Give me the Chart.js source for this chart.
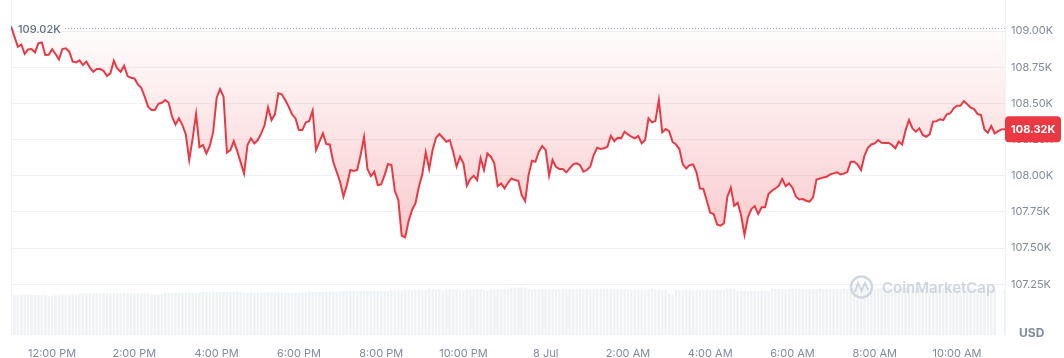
<!DOCTYPE html>
<html>
<head>
<meta charset="utf-8">
<script src="https://cdn.jsdelivr.net/npm/chart.js@4.4.1/dist/chart.umd.min.js"></script>
<style>
  html, body { margin: 0; padding: 0; background: #fff; }
</style>
</head>
<body>
<canvas id="priceChart" width="1064" height="358"></canvas>
<script>
// BTC / USD, one point every 5 minutes, 11:00 AM (7 Jul) -> 11:10 AM (8 Jul)
const openPrice = 109020;

const prices = [
  109035, 108962, 108892, 108908, 108842, 108874, 108876, 108853, 108915, 108922,
  108835, 108837, 108874, 108842, 108805, 108876, 108881, 108858, 108789, 108784,
  108798, 108766, 108789, 108749, 108719, 108738, 108738, 108726, 108689, 108708,
  108795, 108742, 108719, 108761, 108689, 108678, 108673, 108632, 108609, 108547,
  108478, 108455, 108455, 108498, 108505, 108524, 108505, 108408, 108355, 108397,
  108351, 108286, 108109, 108259, 108427, 108197, 108213, 108155, 108206, 108305,
  108540, 108600, 108547, 108160, 108178, 108240, 108171, 108093, 108015, 108213,
  108259, 108224, 108247, 108293, 108351, 108473, 108385, 108425, 108570, 108563,
  108524, 108478, 108425, 108397, 108316, 108316, 108369, 108378, 108450, 108178,
  108236, 108293, 108220, 108217, 108097, 108028, 107959, 107856, 107936, 108040,
  108033, 108040, 108144, 108268, 108047, 107998, 108028, 107936, 107941, 108005,
  108081, 108074, 107895, 107833, 107586, 107575, 107687, 107763, 107810, 107925,
  108010, 108162, 108047, 108178, 108263, 108289, 108263, 108236, 108247, 108167,
  108063, 108132, 108086, 107932, 107978, 108001, 107971, 108121, 108040, 108155,
  108132, 108086, 107929, 107948, 107913, 107952, 107982, 107971, 107966, 107867,
  107826, 108005, 108104, 108097, 108167, 108206, 108178, 108001, 108109, 108063,
  108047, 108047, 108024, 108051, 108079, 108086, 108074, 108028, 108040, 108063,
  108144, 108194, 108185, 108190, 108201, 108277, 108240, 108263, 108259, 108305,
  108286, 108270, 108259, 108275, 108224, 108247, 108397, 108369, 108378, 108524,
  108300, 108323, 108309, 108236, 108217, 108185, 108079, 108051, 108074, 108079,
  108024, 107913, 107909, 107828, 107745, 107736, 107664, 107655, 107671, 107856,
  107918, 107793, 107814, 107729, 107591, 107713, 107770, 107791, 107736, 107782,
  107782, 107874, 107897, 107913, 107932, 107978, 107929, 107948, 107918, 107856,
  107837, 107839, 107828, 107821, 107851, 107975, 107982, 107989, 107994, 108010,
  108017, 108024, 108010, 108015, 108028, 108097, 108097, 108079, 108040, 108139,
  108194, 108217, 108224, 108247, 108229, 108226, 108229, 108213, 108190, 108236,
  108217, 108316, 108385, 108328, 108305, 108328, 108282, 108270, 108286, 108374,
  108378, 108390, 108385, 108425, 108431, 108466, 108484, 108484, 108517, 108494,
  108471, 108461, 108427, 108420, 108321, 108298, 108344, 108293, 108309, 108321,
  108322
];

// 24h volume at each point, billions USD
const volumes = [
  20.1, 19.9, 19.8, 20.1, 20.2, 20.2, 20.1, 20.2, 20.0, 19.9,
  20.1, 19.3, 19.6, 20.0, 20.4, 20.4, 20.3, 20.5, 20.4, 20.3,
  20.6, 20.9, 20.9, 20.8, 21.0, 20.9, 20.7, 20.9, 21.0, 20.9,
  21.0, 21.0, 20.9, 21.0, 20.9, 20.9, 21.0, 21.0, 20.8, 20.9,
  20.9, 20.4, 20.2, 20.3, 20.6, 21.2, 21.1, 21.2, 21.2, 21.2,
  21.1, 21.2, 21.2, 21.1, 21.2, 21.3, 21.6, 21.5, 21.3, 21.6,
  21.4, 21.6, 21.7, 21.5, 21.6, 21.7, 21.8, 21.6, 21.2, 21.0,
  21.3, 21.2, 21.4, 21.1, 21.4, 21.5, 21.3, 21.4, 21.5, 21.2,
  21.3, 21.4, 21.2, 21.3, 21.2, 21.4, 21.3, 21.7, 21.6, 21.8,
  21.7, 21.7, 21.6, 21.8, 21.7, 21.6, 21.8, 22.1, 22.0, 22.1,
  22.2, 22.0, 22.1, 22.1, 22.2, 22.0, 22.1, 22.2, 22.1, 22.0,
  22.1, 22.6, 22.5, 22.6, 22.4, 22.6, 22.7, 22.5, 22.6, 22.6,
  22.5, 22.6, 23.4, 22.9, 22.8, 22.9, 22.2, 22.9, 23.0, 22.8,
  22.9, 22.9, 22.3, 22.9, 22.8, 22.9, 23.0, 22.9, 22.8, 22.2,
  22.9, 22.9, 23.0, 22.8, 22.9, 22.9, 23.7, 23.9, 23.8, 23.9,
  23.6, 22.9, 22.8, 22.9, 22.9, 23.0, 22.9, 22.8, 22.9, 22.9,
  22.8, 22.9, 22.9, 23.0, 22.9, 22.8, 22.9, 22.9, 22.9, 22.8,
  22.9, 22.9, 23.0, 22.9, 22.8, 22.9, 22.9, 22.9, 22.8, 22.9,
  22.9, 22.6, 22.7, 22.9, 22.5, 22.4, 22.8, 22.9, 22.8, 22.6,
  22.5, 22.7, 21.0, 20.2, 22.6, 22.6, 22.5, 22.7, 22.6, 22.6,
  22.5, 22.6, 22.7, 22.6, 22.6, 22.5, 22.6, 22.7, 22.6, 23.3,
  23.4, 23.2, 22.1, 22.2, 22.0, 22.1, 22.2, 22.1, 22.0, 22.2,
  22.1, 22.2, 23.1, 23.0, 23.2, 23.1, 22.9, 23.1, 23.2, 23.0,
  23.1, 23.1, 22.9, 23.2, 23.1, 23.0, 23.2, 23.1, 23.1, 22.9,
  23.0, 23.2, 23.1, 23.3, 23.2, 23.2, 23.3, 23.4, 23.3, 23.4,
  23.5, 23.4, 23.3, 23.4, 23.5, 23.4, 23.4, 23.3, 23.5, 23.4,
  23.4, 23.5, 23.4, 23.3, 23.4, 23.5, 23.4, 23.4, 23.5, 23.4,
  23.3, 23.4, 23.5, 23.4, 23.4, 23.3, 23.4, 23.5, 23.4, 23.4,
  23.5, 23.4, 23.3, 23.4, 23.4, 23.5, 23.4, 23.4, 0, 0,
  22.6
];

// x ticks: index of the point (5 min steps) and its label
const tickIndex = [12, 36, 60, 84, 108, 132, 156, 180, 204, 228, 252, 276];
const tickLabels = ['12:00 PM', '2:00 PM', '4:00 PM', '6:00 PM', '8:00 PM', '10:00 PM',
                    '8 Jul', '2:00 AM', '4:00 AM', '6:00 AM', '8:00 AM', '10:00 AM'];
const priceTicks = [107250, 107500, 107750, 108000, 108250, 108500, 108750, 109000];

const red = '#ea3943';
const green = '#16c784';
const gridColor = '#eff2f5';

Chart.defaults.font.family = 'Inter';
Chart.defaults.font.size = 11;
Chart.defaults.color = '#808a9d';

function kLabel(v) {
    return (v / 1000).toFixed(2) + 'K';
}

function lineGradient(chart) {
    const {ctx, chartArea, scales} = chart;
    if (!chartArea || !scales.y) return red;
    const y0 = scales.y.getPixelForValue(openPrice);
    const s = Math.min(1, Math.max(0, (y0 - chartArea.top) / (chartArea.bottom - chartArea.top)));
    const g = ctx.createLinearGradient(0, chartArea.top, 0, chartArea.bottom);
    g.addColorStop(0, green);
    g.addColorStop(s, green);
    g.addColorStop(s, red);
    g.addColorStop(1, red);
    return g;
}

function fillGradient(chart) {
    const {ctx, chartArea, scales} = chart;
    if (!chartArea || !scales.y) return 'rgba(234,57,67,0.1)';
    const y0 = scales.y.getPixelForValue(openPrice);
    const yLow = scales.y.getPixelForValue(Math.min(...prices));
    const g = ctx.createLinearGradient(0, y0, 0, yLow);
    g.addColorStop(0, 'rgba(234,57,67,0.01)');
    g.addColorStop(1, 'rgba(234,57,67,0.26)');
    return g;
}

const extras = {
    id: 'extras',
    beforeDatasetsDraw(chart) {
        const {ctx, chartArea: a, scales: {y}} = chart;
        ctx.save();
        // left edge of the plot
        ctx.strokeStyle = gridColor;
        ctx.lineWidth = 1;
        ctx.beginPath();
        ctx.moveTo(a.left + 0.5, a.top);
        ctx.lineTo(a.left + 0.5, a.bottom);
        ctx.stroke();
        // open price, dotted
        const y0 = Math.round(y.getPixelForValue(openPrice)) + 0.5;
        ctx.setLineDash([1, 2]);
        ctx.strokeStyle = '#a6b0c3';
        ctx.beginPath();
        ctx.moveTo(a.left + 54, y0);
        ctx.lineTo(a.right, y0);
        ctx.stroke();
        ctx.restore();
    },
    afterDatasetsDraw(chart) {
        const {ctx, chartArea: a, scales: {y}} = chart;
        ctx.save();

        // open price label
        const y0 = y.getPixelForValue(openPrice);
        ctx.font = '500 11px Inter';
        ctx.textBaseline = 'middle';
        ctx.textAlign = 'left';
        ctx.fillStyle = '#616e85';
        ctx.fillText(kLabel(openPrice), a.left + 7, y0 + 1);

        // watermark
        ctx.strokeStyle = 'rgba(200,208,222,0.85)';
        ctx.fillStyle = 'rgba(200,208,222,0.85)';
        ctx.lineWidth = 2.4;
        ctx.beginPath();
        ctx.arc(861.5, 287, 10.5, 0, Math.PI * 2);
        ctx.stroke();
        ctx.lineWidth = 2;
        ctx.beginPath();
        ctx.moveTo(855, 292);
        ctx.lineTo(858, 283);
        ctx.lineTo(861.5, 291);
        ctx.lineTo(865, 283);
        ctx.lineTo(868, 290);
        ctx.stroke();
        ctx.font = '600 15px Inter';
        ctx.fillText('CoinMarketCap', 882, 288);

        // last price badge
        const last = prices[prices.length - 1];
        const yl = y.getPixelForValue(last);
        ctx.fillStyle = red;
        ctx.beginPath();
        ctx.roundRect(a.right, yl - 13, 56, 26, 4);
        ctx.fill();
        ctx.fillStyle = '#ffffff';
        ctx.font = 'bold 11px Inter';
        ctx.fillText(kLabel(last), a.right + 6, yl + 0.5);

        // currency
        ctx.fillStyle = '#808a9d';
        ctx.font = 'bold 12px Inter';
        ctx.fillText('USD', a.right + 14, a.bottom - 2);
        ctx.restore();
    }
};

new Chart(document.getElementById('priceChart'), {
    data: {
        datasets: [{
            type: 'line',
            data: prices.map((p, i) => ({x: i, y: p})),
            yAxisID: 'y',
            borderWidth: 2,
            pointRadius: 0,
            tension: 0,
            order: 1,
            borderColor: (c) => lineGradient(c.chart),
            backgroundColor: (c) => fillGradient(c.chart),
            fill: {target: {value: openPrice}},
        }, {
            type: 'bar',
            data: volumes.map((v, i) => ({x: i, y: v})),
            yAxisID: 'vol',
            backgroundColor: gridColor,
            barPercentage: 0.72,
            categoryPercentage: 1,
            order: 2,
        }]
    },
    options: {
        responsive: false,
        animation: false,
        devicePixelRatio: 1,
        layout: {padding: {left: 11, top: 0, right: 0, bottom: 0}},
        plugins: {
            legend: {display: false},
            tooltip: {enabled: false}
        },
        scales: {
            x: {
                type: 'linear',
                offset: false,
                min: 0,
                max: 290,
                grid: {display: false, offset: false},
                border: {display: false},
                ticks: {
                    autoSkip: false,
                    maxRotation: 0,
                    padding: 4,
                    callback: (v) => tickLabels[tickIndex.indexOf(v)] || ''
                },
                afterBuildTicks: (s) => { s.ticks = tickIndex.map((v) => ({value: v})); },
                afterFit: (s) => { s.height = 23; s.paddingLeft = 0; s.paddingRight = 0; }
            },
            y: {
                position: 'right',
                min: 106900,
                max: 109215,
                grid: {color: gridColor, drawTicks: false},
                border: {display: true, color: gridColor},
                ticks: {padding: 6, callback: (v) => kLabel(v)},
                afterBuildTicks: (s) => { s.ticks = priceTicks.map((v) => ({value: v})); },
                afterFit: (s) => { s.width = 59; s.paddingTop = 0; s.paddingBottom = 0; }
            },
            vol: {
                display: false,
                min: 0,
                max: 168
            }
        }
    },
    plugins: [extras]
});
</script>
</body>
</html>
